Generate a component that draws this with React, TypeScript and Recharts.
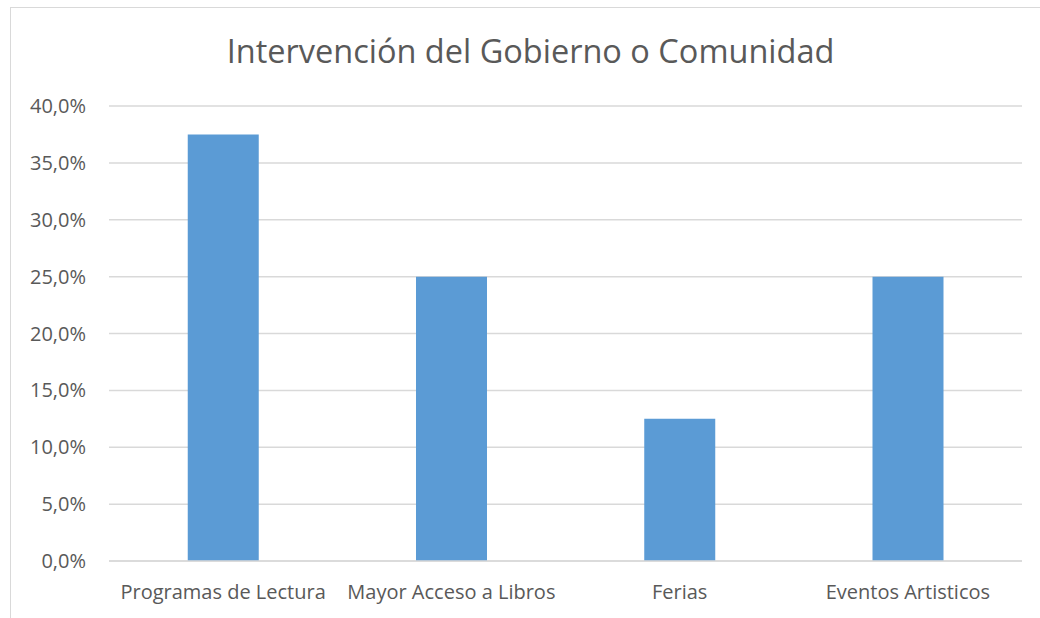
import React from 'react';
import { BarChart, Bar, XAxis, YAxis, CartesianGrid } from 'recharts';

const categories = ['Programas de Lectura', 'Mayor Acceso a Libros', 'Ferias', 'Eventos Artisticos'];
const shares = [0.375, 0.25, 0.125, 0.25];
const yTicks = [0, 0.05, 0.1, 0.15, 0.2, 0.25, 0.3, 0.35, 0.4];
const title = 'Intervención del Gobierno o Comunidad';

const chartData = categories.map((name, i) => ({ name, value: shares[i] }));

const fmtPct = (v: number) => (v * 100).toFixed(1).replace('.', ',') + '%';

const font = '"Open Sans", "Noto Sans", sans-serif';
const textColor = '#595959';
const gridColor = '#d9d9d9';

const App: React.FC = () => {
  return (
    <div style={{ position: 'fixed', left: 0, top: 0, width: 1040, height: 618, overflow: 'hidden', background: '#fff' }}>
      <div
        style={{
          position: 'absolute',
          left: 10,
          top: 7,
          width: 1060,
          height: 640,
          border: `1.5px solid ${gridColor}`,
        }}
      />
      <div
        style={{
          position: 'absolute',
          left: 0,
          width: 1061,
          top: 28,
          textAlign: 'center',
          fontFamily: font,
          fontSize: 32.5,
          color: textColor,
          lineHeight: '46px',
        }}
      >
        {title}
      </div>
      <div style={{ position: 'absolute', left: 0, top: 0 }}>
        <BarChart
          width={1040}
          height={618}
          data={chartData}
          margin={{ top: 106, right: 18, bottom: 17, left: 0 }}
          barCategoryGap="34.5%"
        >
          <CartesianGrid vertical={false} stroke={gridColor} strokeWidth={1.5} />
          <XAxis
            dataKey="name"
            height={40}
            axisLine={{ stroke: gridColor, strokeWidth: 1.5 }}
            tickLine={false}
            tickMargin={18}
            interval={0}
            tick={{ fill: textColor, fontSize: 20, fontFamily: font }}
          />
          <YAxis
            width={109}
            domain={[0, 0.4]}
            ticks={yTicks}
            tickFormatter={fmtPct}
            axisLine={false}
            tickLine={false}
            tickSize={0}
            tickMargin={23}
            tick={{ fill: textColor, fontSize: 20, fontFamily: font }}
          />
          <Bar dataKey="value" fill="#5b9bd5" isAnimationActive={false} />
        </BarChart>
      </div>
    </div>
  );
};

export default App;
